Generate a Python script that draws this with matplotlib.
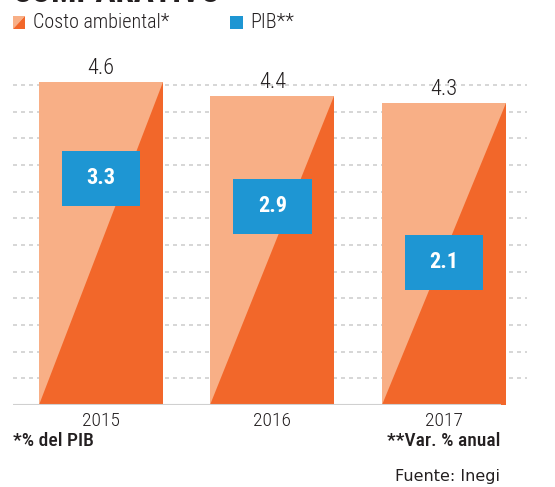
import matplotlib
matplotlib.use("Agg")
import matplotlib.pyplot as plt
from matplotlib import font_manager as fm
from matplotlib.patches import Polygon, Rectangle

# datos
years = ["2015", "2016", "2017"]
costo = [4.6, 4.4, 4.3]   # costo ambiental, % del PIB
pib = [3.3, 2.9, 2.1]     # PIB, var. % anual

light = "#F8AF86"
dark = "#F2672A"
blue = "#1E96D3"
ink = "#231F20"
grid = "#D0D0D0"

installed = {f.name for f in fm.fontManager.ttflist}


def pick(*names):
    for n in names:
        if n in installed:
            return n
    return "DejaVu Sans"


cond = pick("Roboto Condensed", "Liberation Sans Narrow", "DejaVu Sans Condensed", "Roboto")
plain = pick("DejaVu Sans", "Roboto")

W, H = 555, 487


def fx(px):
    return px / W


def fy(py):
    return 1 - py / H


fig = plt.figure(figsize=(W / 100, H / 100), dpi=100)
ax = fig.add_axes([fx(13), 82 / H, (530 - 13) / W, 351 / H])
ax.set_xlim(-0.513, 2.5015)
ax.set_ylim(0, 5.0)
ax.axis("off")

x = list(range(len(years)))
bw = 0.723

# lineas guia punteadas
for k in range(1, 13):
    ax.hlines(k * 0.38, -0.513, 2.484, color=grid, lw=1.2,
              linestyle=(0, (2.4, 2.4)), zorder=1)
ax.hlines(0, -0.513, 2.33, color=grid, lw=1.5, zorder=5)

# barras de costo ambiental
ax.bar(x, costo, width=bw, color=light, zorder=2, linewidth=0)
for xi, v in zip(x, costo):
    tri = Polygon([(xi - bw / 2, 0), (xi + bw / 2, 0), (xi + bw / 2, v)],
                  closed=True, facecolor=dark, edgecolor="none", zorder=3)
    ax.add_patch(tri)
    ax.text(xi, v + 0.2, f"{v}", ha="center", va="center", fontsize=16,
            family=cond, weight="light", color=ink)

# cajas de PIB
ax.bar(x, 0.78, bottom=[p - 0.46 for p in pib], width=0.455, color=blue,
       zorder=4, linewidth=0)
for xi, p in zip(x, pib):
    ax.text(xi, p - 0.07, f"{p}", ha="center", va="center", fontsize=16,
            family=cond, weight="bold", color="white", zorder=6)

for xi, yr in zip(x, years):
    ax.text(xi, -0.228, yr, ha="center", va="center", fontsize=14,
            family=cond, weight="light", color=ink)

# titulo (cortado arriba)
fig.text(fx(13), fy(2), "COMPARATIVO", ha="left", va="baseline", fontsize=24,
         family=cond, weight="bold", color=ink)

# leyenda
fig.patches.append(Polygon([(fx(13), fy(16)), (fx(25), fy(16)), (fx(13), fy(29))],
                           closed=True, facecolor=light, edgecolor="none",
                           transform=fig.transFigure, figure=fig))
fig.patches.append(Polygon([(fx(25), fy(16)), (fx(25), fy(29)), (fx(13), fy(29))],
                           closed=True, facecolor=dark, edgecolor="none",
                           transform=fig.transFigure, figure=fig))
fig.patches.append(Rectangle((fx(230), fy(29)), fx(13), 13 / H, facecolor=blue,
                             edgecolor="none", transform=fig.transFigure, figure=fig))
fig.text(fx(33), fy(22), "Costo ambiental*", ha="left", va="center", fontsize=14.5,
         family=cond, weight="light", color=ink)
fig.text(fx(250), fy(22), "PIB**", ha="left", va="center", fontsize=14.5,
         family=cond, weight="light", color=ink)

# notas
fig.text(fx(13), fy(441), "*% del PIB", ha="left", va="center", fontsize=14,
         family=cond, weight="medium", color=ink)
fig.text(fx(500), fy(441), "**Var. % anual", ha="right", va="center", fontsize=14,
         family=cond, weight="medium", color=ink)
fig.text(fx(500), fy(476), "Fuente: Inegi", ha="right", va="center", fontsize=11.5,
         family=plain, color=ink)

fig.savefig("out.png", dpi=100)
